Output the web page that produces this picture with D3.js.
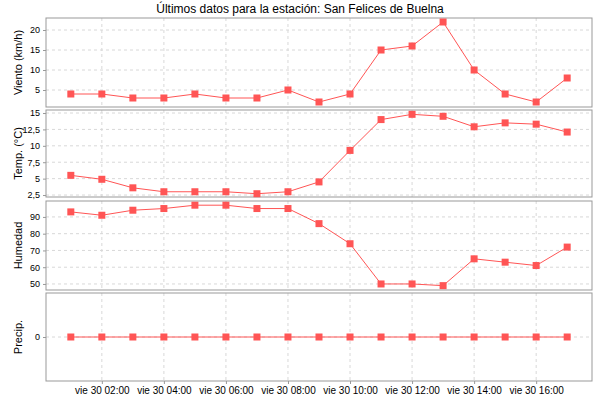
<!DOCTYPE html><html><head><meta charset="utf-8"><script src="https://cdn.jsdelivr.net/npm/d3@7"></script>
<style>body{margin:0;background:#fff}text{font-family:"Liberation Sans",Arial,sans-serif}</style></head><body><svg id="c" width="600" height="400"></svg><script>
const hours=[1,2,3,4,5,6,7,8,9,10,11,12,13,14,15,16,17];
const viento=[4,4,3,3,4,3,3,5,2,4,15,16,22,10,4,2,8];
const temp=[5.5,4.9,3.6,3.0,3.0,3.0,2.7,3.0,4.5,9.3,14,14.8,14.5,12.9,13.5,13.3,12.1];
const humedad=[93,91,94,95,97,97,95,95,86,74,50,50,49,65,63,61,72];
const precip=hours.map(()=>0);
const xTicks=[2,4,6,8,10,12,14,16];
const panels=[
 {label:"Viento (km/h)",vals:viento,dom:[0.75,23],ticks:[5,10,15,20],y0:18,y1:107,fmt:d=>d},
 {label:"Temp. (°C)",vals:temp,dom:[2.2,15.46],ticks:[2.5,5,7.5,10,12.5,15],y0:110,y1:197,fmt:d=>String(d).replace(".",",")},
 {label:"Humedad",vals:humedad,dom:[46.4,99.5],ticks:[50,60,70,80,90],y0:201,y1:290,fmt:d=>d},
 {label:"Precip.",vals:precip,dom:[-1,1],ticks:[0],y0:293,y1:381,fmt:d=>d}];
const F="Liberation Sans,Arial,sans-serif";
const svg=d3.select("#c");
const L=46,R=592;
const x=d3.scaleLinear().domain([0.2,17.8]).range([L,R]);
svg.append("text").attr("x",300).attr("y",13).attr("text-anchor","middle").attr("font-size",12).text("Últimos datos para la estación: San Felices de Buelna");
panels.forEach(p=>{
 const y=d3.scaleLinear().domain(p.dom).range([p.y1,p.y0]);
 const g=svg.append("g");
 xTicks.forEach(t=>g.append("line").attr("x1",x(t)).attr("x2",x(t)).attr("y1",p.y0).attr("y2",p.y1).attr("stroke","#d8d8d8").attr("stroke-dasharray","3,3"));
 p.ticks.forEach(t=>g.append("line").attr("x1",L).attr("x2",R).attr("y1",y(t)).attr("y2",y(t)).attr("stroke","#d8d8d8").attr("stroke-dasharray","3,3"));
 g.append("rect").attr("x",L).attr("y",p.y0).attr("width",R-L).attr("height",p.y1-p.y0).attr("fill","none").attr("stroke","#999");
 const ax=g.append("g").attr("transform",`translate(${L},0)`).call(d3.axisLeft(y).tickValues(p.ticks).tickSize(3).tickFormat(p.fmt));
 ax.select(".domain").remove();ax.selectAll("line").attr("stroke","#999");ax.selectAll("text").attr("font-size",9).attr("font-family",F);
 g.append("text").attr("transform",`translate(22,${(p.y0+p.y1)/2}) rotate(-90)`).attr("text-anchor","middle").attr("font-size",11).text(p.label);
 g.append("path").datum(p.vals).attr("fill","none").attr("stroke","#ff5555").attr("stroke-width",1)
  .attr("d",d3.line().x((d,i)=>x(hours[i])).y(d=>y(d)));
 g.selectAll("rect.m").data(p.vals).join("rect").attr("class","m").attr("x",(d,i)=>x(hours[i])-3.5).attr("y",d=>y(d)-3.5).attr("width",7).attr("height",7).attr("fill","#ff5555");
});
const xa=svg.append("g").attr("transform","translate(0,381)").call(d3.axisBottom(x).tickValues(xTicks).tickSize(3).tickFormat(d=>"vie 30 "+String(d).padStart(2,"0")+":00"));
xa.select(".domain").remove();xa.selectAll("line").attr("stroke","#999");xa.selectAll("text").attr("font-size",10).attr("font-family",F);
</script></body></html>
